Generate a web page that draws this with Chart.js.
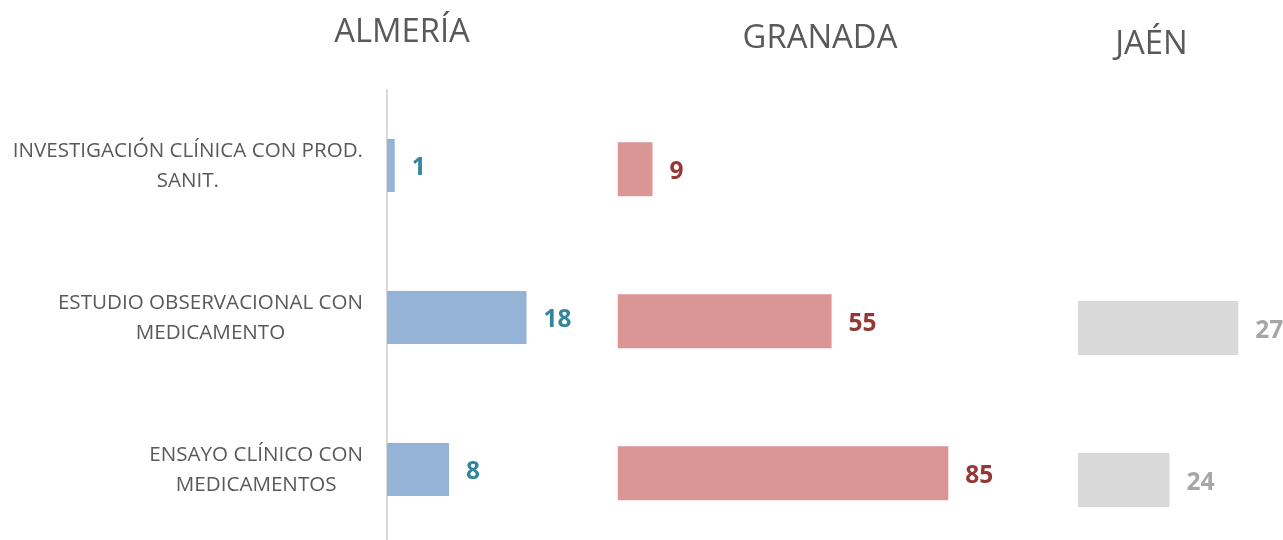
<!DOCTYPE html>
<html>
<head>
<meta charset="utf-8">
<script src="https://cdn.jsdelivr.net/npm/chart.js@4"></script>
<style>
  html, body { margin: 0; padding: 0; background: #ffffff; }
  body { width: 1283px; height: 540px; overflow: hidden; position: relative; }
  .panel { position: absolute; top: 0; }
</style>
</head>
<body>
<div class="panel" id="p0" style="left:0px;width:804px;height:546px;"><canvas id="c0"></canvas></div>
<div class="panel" id="p1" style="left:600px;width:440px;height:550px;"><canvas id="c1"></canvas></div>
<div class="panel" id="p2" style="left:1020px;width:263px;height:556px;"><canvas id="c2"></canvas></div>
<script>
// ---- data ----
const categories = [
  ['INVESTIGACIÓN CLÍNICA CON PROD.', 'SANIT.'],
  ['ESTUDIO OBSERVACIONAL CON', 'MEDICAMENTO'],
  ['ENSAYO CLÍNICO CON', 'MEDICAMENTOS']
];
const panelTitles = ['ALMERÍA', 'GRANADA', 'JAÉN'];
const almeriaValues = [1, 18, 8];
const granadaValues = [9, 55, 85];
const jaenValues = [null, 27, 24];

const FONT = "'Open Sans', 'DejaVu Sans', sans-serif";
const TEXT = '#595959';

const valueLabels = {
  id: 'valueLabels',
  afterDatasetsDraw(chart, args, opts) {
    const ctx = chart.ctx;
    const meta = chart.getDatasetMeta(0);
    const data = chart.data.datasets[0].data;
    ctx.save();
    ctx.font = 'bold 24.5px ' + FONT;
    ctx.fillStyle = opts.color;
    ctx.textAlign = 'left';
    ctx.textBaseline = 'middle';
    meta.data.forEach((el, i) => {
      if (data[i] === null || data[i] === undefined) return;
      ctx.fillText(String(data[i]), el.x + 17, el.y + 3);
    });
    ctx.restore();
  }
};

const categoryLabels = {
  id: 'categoryLabels',
  afterDraw(chart, args, opts) {
    if (!opts.show) return;
    const ctx = chart.ctx;
    const yScale = chart.scales.y;
    ctx.save();
    ctx.font = '20.6px ' + FONT;
    ctx.fillStyle = TEXT;
    ctx.textAlign = 'center';
    ctx.textBaseline = 'middle';
    const right = 363;
    const lh = 29.5;
    categories.forEach((lines, i) => {
      const y = yScale.getPixelForValue(i);
      const w = Math.max(...lines.map(l => ctx.measureText(l).width));
      const cx = right - w / 2;
      lines.forEach((l, j) => {
        ctx.fillText(l, cx, y + 0.5 + (j - (lines.length - 1) / 2) * lh);
      });
    });
    ctx.restore();
  }
};

function makeChart(id, cfg) {
  return new Chart(document.getElementById(id), {
    type: 'bar',
    data: {
      labels: categories,
      datasets: [{
        data: cfg.values,
        backgroundColor: cfg.barColor,
        borderWidth: 0,
        categoryPercentage: 1,
        barPercentage: cfg.barPct,
        clip: { left: 0, top: false, right: false, bottom: false }
      }]
    },
    options: {
      indexAxis: 'y',
      responsive: true,
      maintainAspectRatio: false,
      animation: false,
      layout: { padding: cfg.padding },
      scales: {
        x: {
          display: false,
          min: cfg.min,
          max: cfg.max
        },
        y: {
          display: cfg.showAxis,
          grid: { display: false },
          border: { display: cfg.showAxis, color: '#D9D9D9', width: 2 },
          ticks: { display: false },
          afterFit(scale) { if (cfg.showAxis) scale.width = cfg.axisWidth; }
        }
      },
      plugins: {
        legend: { display: false },
        tooltip: { enabled: false },
        title: {
          display: true,
          text: cfg.title,
          color: TEXT,
          font: { family: FONT, size: 32.8, weight: 'normal', lineHeight: 1.2 },
          padding: cfg.titlePad
        },
        valueLabels: { color: cfg.labelColor },
        categoryLabels: { show: cfg.showAxis }
      }
    },
    plugins: [valueLabels, categoryLabels]
  });
}

makeChart('c0', {
  title: panelTitles[0], values: almeriaValues,
  barColor: '#95B3D7', labelColor: '#31859C', barPct: 53 / 152,
  min: 0, max: 53.8, showAxis: true, axisWidth: 387,
  padding: { left: 0, right: 0, top: 0, bottom: 0.5 },
  titlePad: { top: 13.3, bottom: 36.84 }
});
makeChart('c1', {
  title: panelTitles[1], values: granadaValues,
  barColor: '#DA9694', labelColor: '#953735', barPct: 54 / 152,
  min: 0, max: 104.06, showAxis: false,
  padding: { left: 17.5, right: 17.5, top: 0, bottom: 0.7 },
  titlePad: { top: 18.5, bottom: 35.44 }
});
makeChart('c2', {
  title: panelTitles[2], values: jaenValues,
  barColor: '#D9D9D9', labelColor: '#A6A6A6', barPct: 54 / 152,
  min: 20, max: 26.42, showAxis: false,
  padding: { left: 58, right: 58, top: 0, bottom: 0 },
  titlePad: { top: 24.6, bottom: 36.04 }
});
</script>
</body>
</html>
